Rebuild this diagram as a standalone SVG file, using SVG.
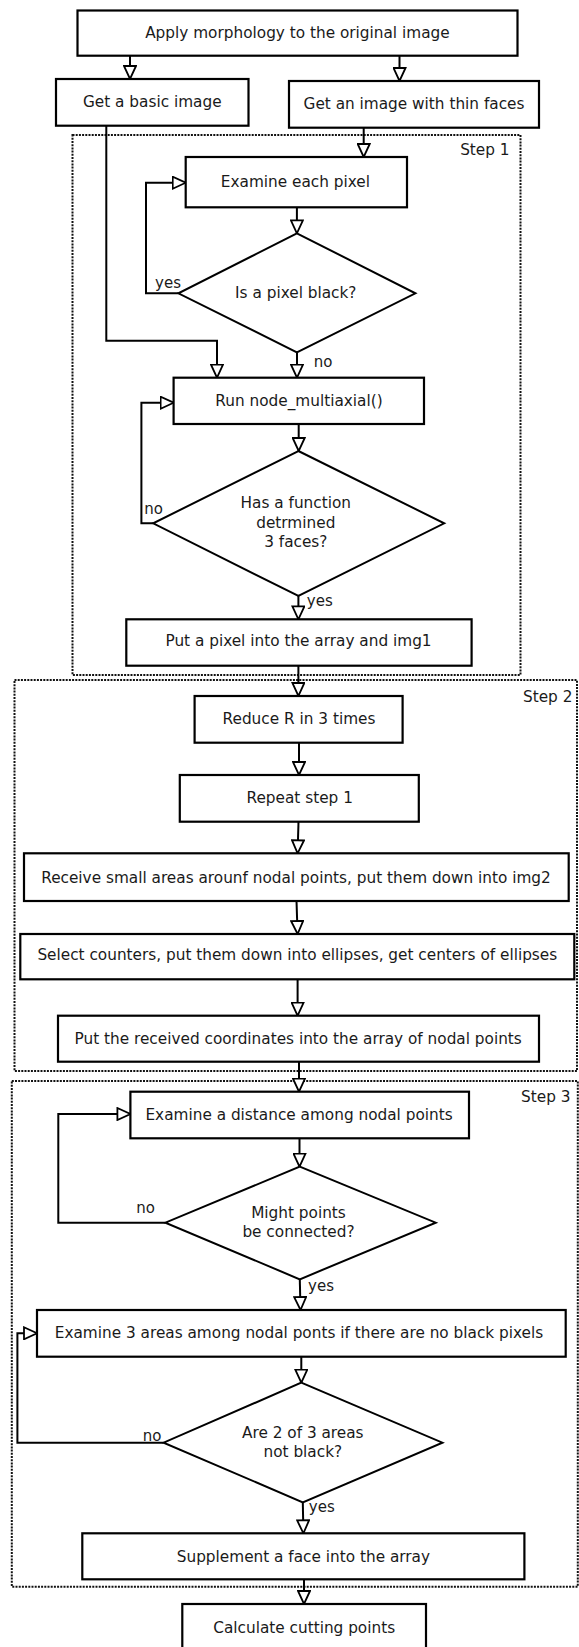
<svg xmlns="http://www.w3.org/2000/svg" width="579" height="1647" viewBox="0 0 579 1647">
<style>
.box{fill:#fff;stroke:#000;stroke-width:2.2}
.dia{fill:#fff;stroke:#000;stroke-width:2}
.step{fill:none;stroke:#111;stroke-width:2;stroke-dasharray:2 1.2}
.t{font-family:"DejaVu Sans",Verdana,sans-serif;font-size:15.3px;fill:#1a1a1a;text-anchor:middle;dominant-baseline:central}
.sl{font-family:"DejaVu Sans",Verdana,sans-serif;font-size:15.3px;fill:#1a1a1a;text-anchor:end;dominant-baseline:central}
.lb{font-family:"DejaVu Sans",Verdana,sans-serif;font-size:15px;fill:#1a1a1a;text-anchor:middle;dominant-baseline:central}
.c{fill:none;stroke:#000;stroke-width:2;marker-end:url(#ah)}
</style>
<defs>
<marker id="ah" viewBox="0 0 15 14" markerWidth="15" markerHeight="14" refX="14" refY="7" orient="auto" markerUnits="userSpaceOnUse">
<path d="M1,1 L14,7 L1,13 z" fill="#fff" stroke="#000" stroke-width="1.8" stroke-linejoin="miter"/>
</marker>
</defs>
<rect width="579" height="1647" fill="#fff"/>

<g id="step1">
<rect class="step" x="72.5" y="135" width="448" height="540"/>
<text class="sl" x="509.6" y="150">Step 1</text>
</g>
<g id="step2">
<rect class="step" x="14.5" y="680" width="562.5" height="391"/>
<text class="sl" x="572.4" y="697">Step 2</text>
</g>
<g id="step3">
<rect class="step" x="11.8" y="1081" width="566" height="505.7"/>
<text class="sl" x="570.5" y="1097">Step 3</text>
</g>

<g id="connectors">
<path class="c" d="M130,55.7 V79"/>
<path class="c" d="M399.5,55.7 V81"/>
<path class="c" d="M363.7,127.7 V157"/>
<path class="c" d="M296.9,207.3 V233.3"/>
<path class="c" d="M178.4,293.3 H146 V182.7 H185.7"/>
<path class="c" d="M297,352.3 V377.7"/>
<path class="c" d="M106.3,125.7 V340.7 H217 V377.7"/>
<path class="c" d="M298.7,424 V451"/>
<path class="c" d="M153.2,523.3 H141.4 V402.7 H173.6"/>
<path class="c" d="M298.4,596 V619.3"/>
<path class="c" d="M298.4,665.7 V696"/>
<path class="c" d="M299,742.7 V775"/>
<path class="c" d="M298.5,821.7 L297.6,853.3"/>
<path class="c" d="M296.5,901 L297.6,934"/>
<path class="c" d="M297.6,979.3 V1015.7"/>
<path class="c" d="M299,1061.7 V1091.7"/>
<path class="c" d="M299.5,1138.3 V1166.7"/>
<path class="c" d="M165.4,1222.7 H58.3 V1114 H130.4"/>
<path class="c" d="M299.8,1279.3 L300.5,1310"/>
<path class="c" d="M301.3,1356.7 V1382.7"/>
<path class="c" d="M163.6,1442.7 H17.4 V1333.3 H37"/>
<path class="c" d="M302.8,1502.3 L303.4,1533.3"/>
<path class="c" d="M304,1579.3 V1604"/>
<text class="lb" x="168" y="283">yes</text>
<text class="lb" x="323" y="362">no</text>
<text class="lb" x="153.7" y="509">no</text>
<text class="lb" x="319.8" y="601">yes</text>
<text class="lb" x="145.5" y="1208">no</text>
<text class="lb" x="321" y="1285.7">yes</text>
<text class="lb" x="152" y="1436">no</text>
<text class="lb" x="321.8" y="1506.7">yes</text>
</g>

<g id="n1"><rect class="box" x="77.5" y="10.5" width="440" height="45.2"/><text class="t" x="297.4" y="33">Apply morphology to the original image</text></g>
<g id="n2"><rect class="box" x="56" y="79" width="192.5" height="46.7"/><text class="t" x="152.3" y="102">Get a basic image</text></g>
<g id="n3"><rect class="box" x="289" y="81" width="250" height="46.7"/><text class="t" x="414" y="104">Get an image with thin faces</text></g>
<g id="n4"><rect class="box" x="185.7" y="157" width="221.3" height="50.3"/><text class="t" x="295.4" y="182">Examine each pixel</text></g>
<g id="d1"><polygon class="dia" points="296.9,233.3 415.4,293.3 296.9,352.3 178.4,293.3"/><text class="t" x="295.8" y="293">Is a pixel black?</text></g>
<g id="n5"><rect class="box" x="173.6" y="377.7" width="250.4" height="46.3"/><text class="t" x="299" y="401">Run node_multiaxial()</text></g>
<g id="d2"><polygon class="dia" points="298.4,451 444.2,523.3 298.4,596 153.2,523.3"/><text class="t" x="295.8" y="503">Has a function</text><text class="t" x="295.8" y="522.5">detrmined</text><text class="t" x="295.8" y="541.5"> 3 faces?</text></g>
<g id="n6"><rect class="box" x="126.3" y="619.3" width="345.3" height="46.4"/><text class="t" x="298.5" y="641">Put a pixel into the array and img1</text></g>
<g id="n7"><rect class="box" x="194.6" y="696" width="208" height="46.7"/><text class="t" x="299" y="719">Reduce R in 3 times</text></g>
<g id="n8"><rect class="box" x="179.8" y="775" width="239" height="46.7"/><text class="t" x="299.7" y="797.5">Repeat step 1</text></g>
<g id="n9"><rect class="box" x="24" y="853.3" width="544.7" height="47.7"/><text class="t" x="296" y="877.5">Receive small areas arounf nodal points, put them down into img2</text></g>
<g id="n10"><rect class="box" x="20.3" y="934" width="554" height="45.3"/><text class="t" x="297.3" y="955">Select counters, put them down into ellipses, get centers of ellipses</text></g>
<g id="n11"><rect class="box" x="58" y="1015.7" width="481" height="46"/><text class="t" x="298.2" y="1039">Put the received coordinates into the array of nodal points</text></g>
<g id="n12"><rect class="box" x="130.4" y="1091.7" width="338.6" height="46.6"/><text class="t" x="299.1" y="1114.5">Examine a distance among nodal points</text></g>
<g id="d3"><polygon class="dia" points="299.8,1166.7 435.7,1222.7 299.8,1279.3 165.4,1222.7"/><text class="t" x="298.5" y="1212.7">Might points</text><text class="t" x="298.5" y="1232.3">be connected?</text></g>
<g id="n13"><rect class="box" x="37" y="1310" width="528.7" height="46.7"/><text class="t" x="299" y="1332.5">Examine 3 areas among nodal ponts if there are no black pixels</text></g>
<g id="d4"><polygon class="dia" points="301.3,1382.7 442.4,1442.7 302.8,1502.3 163.6,1442.7"/><text class="t" x="302.8" y="1432.7">Are 2 of 3 areas</text><text class="t" x="302.8" y="1452.3">not black?</text></g>
<g id="n14"><rect class="box" x="82.3" y="1533.3" width="442.1" height="46"/><text class="t" x="303.4" y="1556.7">Supplement a face into the array</text></g>
<g id="n15"><rect class="box" x="182.3" y="1604" width="243.7" height="50"/><text class="t" x="304.2" y="1627.7">Calculate cutting points</text></g>
</svg>
